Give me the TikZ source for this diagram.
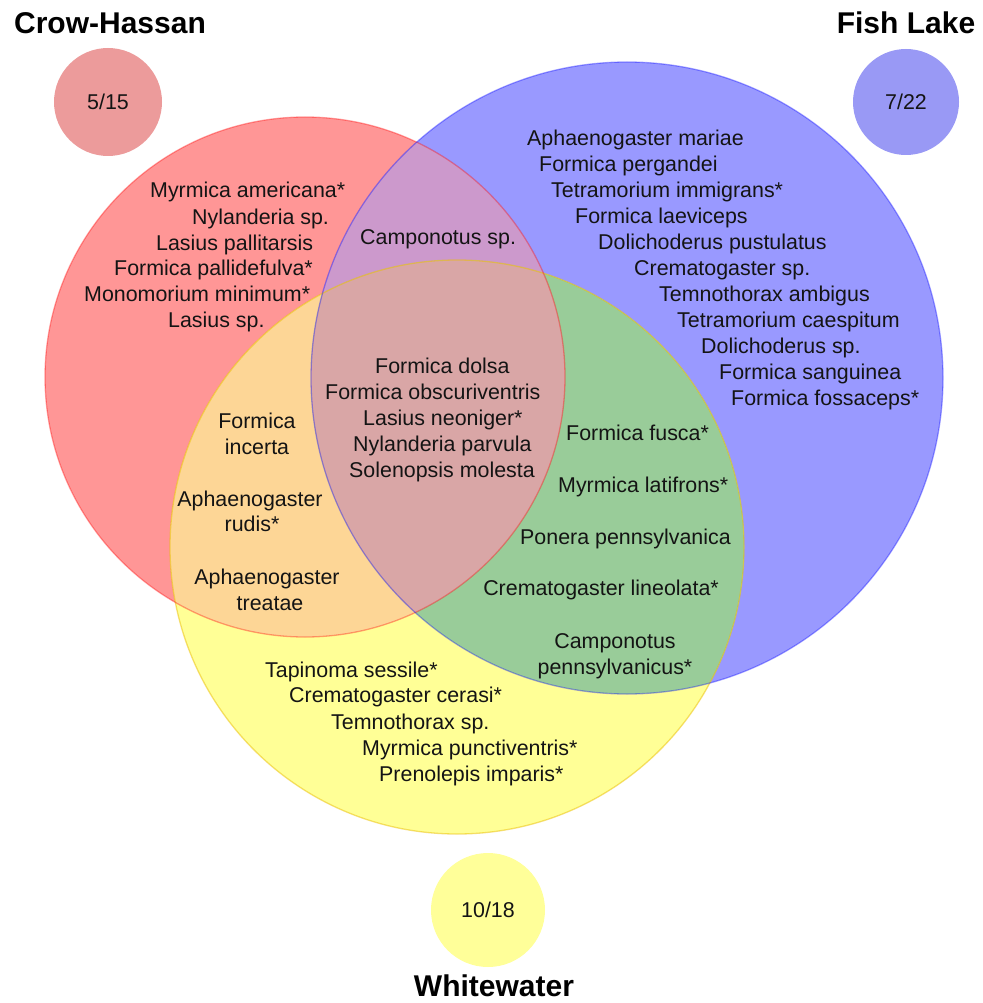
\documentclass[tikz,border=0pt]{standalone}
\usepackage{fontspec}
\setmainfont{Liberation Sans}
\definecolor{rOnly}{RGB}{255,150,150}
\definecolor{bOnly}{RGB}{153,153,255}
\definecolor{yOnly}{RGB}{255,255,150}
\definecolor{rbCol}{RGB}{204,153,204}
\definecolor{ryCol}{RGB}{253,214,150}
\definecolor{byCol}{RGB}{153,204,153}
\definecolor{rbyCol}{RGB}{217,166,166}
\definecolor{rSmall}{RGB}{236,155,155}
\definecolor{bSmall}{RGB}{153,153,245}
\definecolor{ySmall}{RGB}{255,255,153}
\definecolor{txt}{RGB}{20,20,20}
\newcommand\spfont{\fontsize{21.4}{25}\selectfont}
\newcommand\ttlfont{\fontsize{30}{36}\selectfont\bfseries}
\begin{document}
\begin{tikzpicture}[x=1pt,y=-1pt,
  sp/.style={anchor=base west, inner sep=0pt, font=\spfont, text=txt},
  spc/.style={anchor=base, inner sep=0pt, font=\spfont, text=txt},
  spe/.style={anchor=base east, inner sep=0pt, font=\spfont, text=txt},
  ttl/.style={anchor=base, inner sep=0pt, font=\ttlfont, text=black},
  cnt/.style={circle, inner sep=0pt, minimum size=#1, font=\spfont, text=txt},
  edgeR/.style={draw=red, draw opacity=0.35, line width=1.3pt},
  edgeB/.style={draw=blue, draw opacity=0.35, line width=1.3pt},
  edgeY/.style={draw={rgb,255:red,235;green,190;blue,0}, draw opacity=0.5, line width=1.3pt}]
\fill[white] (0,0) rectangle (982,1003);
\path[use as bounding box] (0,0) rectangle (982,1003);
% base fills
\fill[rOnly] (305,377) circle[radius=260pt];
\fill[bOnly] (627,378) circle[radius=316pt];
\fill[yOnly] (457,547) circle[radius=287pt];
% pairwise overlaps
\begin{scope}
  \clip (305,377) circle[radius=260pt];
  \fill[rbCol] (627,378) circle[radius=316pt];
\end{scope}
\begin{scope}
  \clip (305,377) circle[radius=260pt];
  \fill[ryCol] (457,547) circle[radius=287pt];
\end{scope}
\begin{scope}
  \clip (627,378) circle[radius=316pt];
  \fill[byCol] (457,547) circle[radius=287pt];
\end{scope}
% triple overlap
\begin{scope}
  \clip (305,377) circle[radius=260pt];
  \clip (627,378) circle[radius=316pt];
  \fill[rbyCol] (457,547) circle[radius=287pt];
\end{scope}
% outlines
\path[edgeY] (457,547) circle[radius=287pt];
\path[edgeR] (305,377) circle[radius=260pt];
\path[edgeB] (627,378) circle[radius=316pt];
% small count circles
\node[cnt=108pt, fill=rSmall] (chCount) at (108,102) {5/15};
\node[cnt=106pt, fill=bSmall] (flCount) at (906,102) {7/22};
\node[cnt=114pt, fill=ySmall] (wwCount) at (488,910) {10/18};
% titles
\node[ttl] (chTitle) at (110,34) {Crow-Hassan};
\node[ttl] (flTitle) at (906,34) {Fish Lake};
\node[ttl] (wwTitle) at (494,996) {Whitewater};
% Crow-Hassan only
\node[sp] (r1) at (150,197.5) {Myrmica americana*};
\node[sp] (r2) at (192,224.5) {Nylanderia sp.};
\node[sp] (r3) at (156,250.5) {Lasius pallitarsis};
\node[sp] (r4) at (114,275.5) {Formica pallidefulva*};
\node[sp] (r5) at (84,301.5) {Monomorium minimum*};
\node[sp] (r6) at (168,327.5) {Lasius sp.};
% Crow-Hassan & Fish Lake
\node[sp] (rb1) at (360,244.5) {Camponotus sp.};
% all three
\node[sp] (c1) at (375,373.5) {Formica dolsa};
\node[sp] (c2) at (325,399.5) {Formica obscuriventris};
\node[sp] (c3) at (363,425.5) {Lasius neoniger*};
\node[sp] (c4) at (353,451.5) {Nylanderia parvula};
\node[sp] (c5) at (349,477.5) {Solenopsis molesta};
% Fish Lake only
\node[sp] (b1) at (527,145.5) {Aphaenogaster mariae};
\node[sp] (b2) at (539,171.5) {Formica pergandei};
\node[sp] (b3) at (551,197.5) {Tetramorium immigrans*};
\node[sp] (b4) at (575,223.5) {Formica laeviceps};
\node[sp] (b5) at (598,249.5) {Dolichoderus pustulatus};
\node[sp] (b6) at (634,275.5) {Crematogaster sp.};
\node[sp] (b7) at (659,301.5) {Temnothorax ambigus};
\node[sp] (b8) at (677,327.5) {Tetramorium caespitum};
\node[sp] (b9) at (701,353.5) {Dolichoderus sp.};
\node[sp] (b10) at (719,379.5) {Formica sanguinea};
\node[sp] (b11) at (731,405.5) {Formica fossaceps*};
% Crow-Hassan & Whitewater
\node[spc] (ry1) at (257,428.5) {Formica};
\node[spc] (ry2) at (257,454.5) {incerta};
\node[spc] (ry3) at (250,506.5) {Aphaenogaster};
\node[spc] (ry4) at (252,531.5) {rudis*};
\node[spc] (ry5) at (267,584.5) {Aphaenogaster};
\node[spc] (ry6) at (270,610.5) {treatae};
% Fish Lake & Whitewater
\node[sp] (by1) at (566,440.5) {Formica fusca*};
\node[sp] (by2) at (558,492.5) {Myrmica latifrons*};
\node[sp] (by3) at (520,544.5) {Ponera pennsylvanica};
\node[spe] (by4) at (719,595.5) {Crematogaster lineolata*};
\node[spc] (by5) at (615,648.5) {Camponotus};
\node[spc] (by6) at (615,674.5) {pennsylvanicus*};
% Whitewater only
\node[sp] (y1) at (265,677.5) {Tapinoma sessile*};
\node[sp] (y2) at (289,702.5) {Crematogaster cerasi*};
\node[sp] (y3) at (331,729.5) {Temnothorax sp.};
\node[sp] (y4) at (362,755.5) {Myrmica punctiventris*};
\node[sp] (y5) at (379,781.5) {Prenolepis imparis*};
\end{tikzpicture}
\end{document}
